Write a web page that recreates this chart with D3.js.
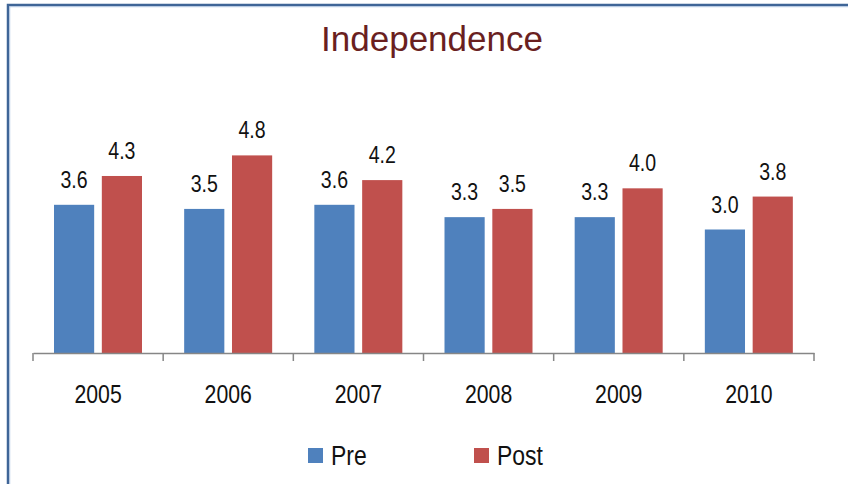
<!DOCTYPE html>
<html>
<head>
<meta charset="utf-8">
<script src="https://cdn.jsdelivr.net/npm/d3@7"></script>
<style>
  html, body { margin: 0; padding: 0; background: #fff; overflow: hidden; }
  svg { display: block; }
  .narrow { font-family: "Liberation Sans", Arial, sans-serif; }
</style>
</head>
<body>
<svg id="chart"></svg>
<script>
const years = ['2005', '2006', '2007', '2008', '2009', '2010']
const pre = [3.6, 3.5, 3.6, 3.3, 3.3, 3.0]
const post = [4.3, 4.8, 4.2, 3.5, 4.0, 3.8]
const seriesNames = ['Pre', 'Post']
const colours = { Pre: '#4f81bd', Post: '#c0504d' }

const width = 848
const height = 484
const squeeze = 0.85 // no Arial Narrow here, so squash Liberation Sans instead
const svg = d3.select('#chart').attr('width', width).attr('height', height)

// frame around the chart (runs off the right and bottom edges)
svg.append('rect')
    .attr('x', 8).attr('y', 5)
    .attr('width', width + 20).attr('height', height + 20)
    .attr('fill', 'none')
    .attr('stroke', '#3f6597')
    .attr('stroke-width', 2.5)
svg.append('rect')
    .attr('x', 9.8).attr('y', 6.8)
    .attr('width', width + 20).attr('height', height + 20)
    .attr('fill', 'none')
    .attr('stroke', '#a9c0e0')
    .attr('stroke-width', 0.8)

svg.append('text')
    .attr('x', 432).attr('y', 51)
    .attr('text-anchor', 'middle')
    .attr('font-family', '"Liberation Sans", Arial, sans-serif')
    .attr('font-size', 35)
    .attr('fill', '#6a1f1f')
    .text('Independence')

const x0 = d3.scaleBand().domain(years).range([33, 814])
const x1 = d3.scaleBand().domain(seriesNames).range([21, 109]).paddingInner(0.16)
const y = d3.scaleLinear().domain([0, 6]).range([353, 106])

const rows = years.map((yr, i) => ({ year: yr, values: [
    { key: 'Pre', value: pre[i] },
    { key: 'Post', value: post[i] }
] }))

const groups = svg.append('g').selectAll('g')
    .data(rows)
    .join('g')
    .attr('transform', d => `translate(${x0(d.year)},0)`)

groups.selectAll('rect')
    .data(d => d.values)
    .join('rect')
    .attr('x', d => x1(d.key))
    .attr('y', d => y(d.value))
    .attr('width', x1.bandwidth())
    .attr('height', d => y(0) - y(d.value))
    .attr('fill', d => colours[d.key])

groups.selectAll('text')
    .data(d => d.values)
    .join('text')
    .attr('class', 'narrow')
    .attr('transform', d => `translate(${x1(d.key) + x1.bandwidth() / 2},${y(d.value) - 17}) scale(${squeeze},1)`)
    .attr('text-anchor', 'middle')
    .attr('font-size', 23)
    .attr('fill', '#111')
    .text(d => d3.format('.1f')(d.value))

// category axis
const axis = d3.axisBottom(x0).tickSize(0).tickPadding(0)
const gx = svg.append('g').attr('transform', `translate(0,${y(0)})`).call(axis)
gx.select('.domain').attr('stroke', '#868686').attr('stroke-width', 1.5)
gx.selectAll('.tick text')
    .attr('class', 'narrow')
    .attr('font-size', 25)
    .attr('fill', '#111')
    .attr('dy', 0)
    .attr('y', 0)
    .attr('transform', `translate(0,50) scale(${squeeze},1)`)
// tick marks sit between the categories
const bounds = years.map(d => x0(d)).concat([x0.range()[1]])
gx.selectAll('.sep')
    .data(bounds)
    .join('line')
    .attr('class', 'sep')
    .attr('x1', d => d).attr('x2', d => d)
    .attr('y1', 0).attr('y2', 8)
    .attr('stroke', '#868686')
    .attr('stroke-width', 1.5)

// legend
const legendX = [308, 474]
const legend = svg.append('g').selectAll('g')
    .data(seriesNames)
    .join('g')
    .attr('transform', (d, i) => `translate(${legendX[i]},448)`)
legend.append('rect')
    .attr('width', 15).attr('height', 15)
    .attr('fill', d => colours[d])
legend.append('text')
    .attr('class', 'narrow')
    .attr('transform', `translate(23,17) scale(${squeeze},1)`)
    .attr('font-size', 27)
    .attr('fill', '#111')
    .text(d => d)
</script>
</body>
</html>
